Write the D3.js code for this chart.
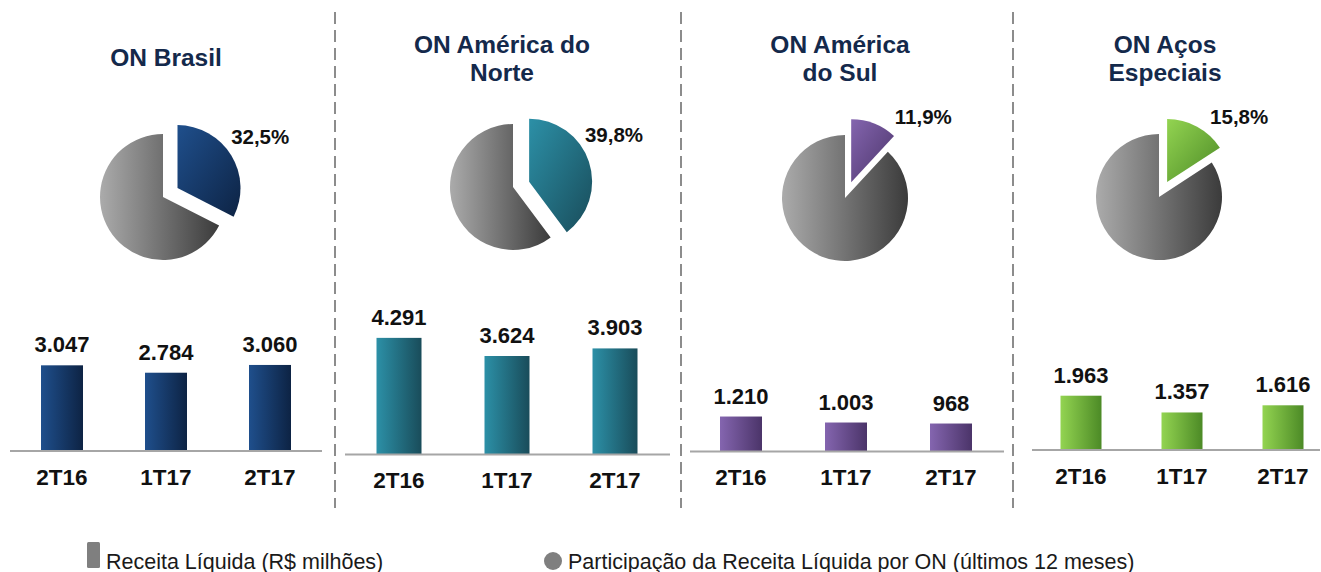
<!DOCTYPE html>
<html>
<head>
<meta charset="utf-8">
<script src="https://cdn.jsdelivr.net/npm/d3@7"></script>
<style>
	body { margin: 0; background: #fff; }
	svg { display: block; font-family: 'Liberation Sans', Arial, sans-serif; }
</style>
</head>
<body>
<div id="chart"></div>
<script>
// Data
let periods = ['2T16', '1T17', '2T17'];
let segments = ['ON Brasil', 'ON América do Norte', 'ON América do Sul', 'ON Aços Especiais'];
let titleLines = [['ON Brasil'], ['ON América do', 'Norte'], ['ON América', 'do Sul'], ['ON Aços', 'Especiais']];
let revenueBrasil = [3047, 2784, 3060];
let revenueNorte = [4291, 3624, 3903];
let revenueSul = [1210, 1003, 968];
let revenueAcos = [1963, 1357, 1616];
let shares = [32.5, 39.8, 11.9, 15.8]; // % of net revenue, last 12 months
let legendLabels = ['Receita Líquida (R$ milhões)', 'Participação da Receita Líquida por ON (últimos 12 meses)'];

let revenues = [revenueBrasil, revenueNorte, revenueSul, revenueAcos];

let width = 1321;
let height = 572;

// Colours: [light, dark] for each segment
let palette = [
	['#1f4f8c', '#0d2344'],
	['#2c90a7', '#194c5a'],
	['#8465af', '#4b3469'],
	['#93d451', '#4c8a26']
];

// Layout of each panel (pixels)
let layout = [
	{center: 166, step: 104, bw: 42, base: 451, axis: [10, 322], h: 140.6, title: 166, pie: [163, 197]},
	{center: 507, step: 108, bw: 45, base: 454.5, axis: [345, 670], h: 135.9, title: 502, pie: [513, 187]},
	{center: 846, step: 105, bw: 42, base: 451.5, axis: [690, 1004], h: 144.5, title: 840, pie: [845, 198]},
	{center: 1182, step: 101, bw: 41, base: 450, axis: [1032, 1320], h: 138.3, title: 1165, pie: [1159, 197]}
];
let separators = [335, 681, 1013];
let R = 63;       // pie radius
let EXPLODE = 17; // explode distance of the coloured slice

let svg = d3.select('#chart').append('svg')
		.attr('width', width)
		.attr('height', height);

let defs = svg.append('defs');

// Grey pie gradient (light left, dark right)
let gGrey = defs.append('linearGradient').attr('id', 'grad-grey')
		.attr('x1', 0).attr('y1', 0).attr('x2', 1).attr('y2', 0);
gGrey.append('stop').attr('offset', 0).attr('stop-color', '#ababab');
gGrey.append('stop').attr('offset', 1).attr('stop-color', '#3b3b3b');

palette.forEach((c, i) => {
	let bar = defs.append('linearGradient').attr('id', 'grad-bar-' + i)
			.attr('x1', 0).attr('y1', 0).attr('x2', 1).attr('y2', 0);
	bar.append('stop').attr('offset', 0).attr('stop-color', c[0]);
	bar.append('stop').attr('offset', 1).attr('stop-color', c[1]);

	let slice = defs.append('linearGradient').attr('id', 'grad-slice-' + i)
			.attr('x1', 0).attr('y1', 0).attr('x2', 1).attr('y2', 1);
	slice.append('stop').attr('offset', 0).attr('stop-color', c[0]);
	slice.append('stop').attr('offset', 1).attr('stop-color', c[1]);
});

// Dashed separators between panels
svg.append('g').selectAll('line').data(separators).enter().append('line')
		.attr('x1', d => d).attr('x2', d => d)
		.attr('y1', 12).attr('y2', 508)
		.attr('stroke', '#8c8c8c')
		.attr('stroke-width', 2)
		.attr('stroke-dasharray', '12,6');

segments.forEach((name, i) => drawPanel(i));

/**
 * Draws title, exploded pie and bar chart for one segment.
 *
 * @param i {number} index of the segment
 */
function drawPanel(i) {
	let L = layout[i];
	let g = svg.append('g').attr('class', 'panel').attr('id', 'panel-' + i);

	// Title
	let title = g.append('text')
			.attr('text-anchor', 'middle')
			.attr('font-size', 24.5)
			.attr('font-weight', 'bold')
			.attr('fill', '#14294b');
	let lines = titleLines[i];
	let firstBase = lines.length === 1 ? 66 : 53;
	lines.forEach((t, k) => {
		title.append('tspan')
				.attr('x', L.title)
				.attr('y', firstBase + k * 28)
				.text(t);
	});

	// Pie
	let pie = d3.pie().sort(null).value(d => d);
	let arcs = pie([shares[i], 100 - shares[i]]);
	let arc = d3.arc().innerRadius(0).outerRadius(R);
	let pieG = g.append('g').attr('transform', `translate(${L.pie[0]}, ${L.pie[1]})`);

	pieG.append('path')
			.attr('d', arc(arcs[1]))
			.attr('fill', 'url(#grad-grey)');

	let mid = (arcs[0].startAngle + arcs[0].endAngle) / 2;
	let ex = Math.sin(mid) * EXPLODE;
	let ey = -Math.cos(mid) * EXPLODE;
	pieG.append('path')
			.attr('d', arc(arcs[0]))
			.attr('transform', `translate(${ex}, ${ey})`)
			.attr('fill', `url(#grad-slice-${i})`);

	// Percentage label, outside the exploded slice
	let la = Math.max(48 * Math.PI / 180, Math.min(mid, 61 * Math.PI / 180));
	pieG.append('text')
			.attr('x', ex + Math.sin(la) * 97)
			.attr('y', ey - Math.cos(la) * 97 + 7)
			.attr('text-anchor', 'middle')
			.attr('font-size', 20.5)
			.attr('font-weight', 'bold')
			.attr('fill', '#111')
			.text(d3.format('.1f')(shares[i]).replace('.', ',') + '%');

	// Bars
	let xScale = d3.scalePoint()
			.domain(periods)
			.range([L.center - L.step, L.center + L.step]);
	let yScale = d3.scaleLinear()
			.domain([0, 5000])
			.range([L.base, L.base - L.h]);

	let data = periods.map((p, k) => ({period: p, value: revenues[i][k]}));

	g.append('g').selectAll('rect').data(data).enter().append('rect')
			.attr('x', d => xScale(d.period) - L.bw / 2)
			.attr('y', d => yScale(d.value))
			.attr('width', L.bw)
			.attr('height', d => yScale(0) - yScale(d.value))
			.attr('fill', `url(#grad-bar-${i})`);

	g.append('g').selectAll('text').data(data).enter().append('text')
			.attr('x', d => xScale(d.period))
			.attr('y', d => yScale(d.value) - 13)
			.attr('text-anchor', 'middle')
			.attr('font-size', 22)
			.attr('font-weight', 'bold')
			.attr('fill', '#111')
			.text(d => d3.format(',')(d.value).replace(',', '.'));

	// Baseline
	g.append('line')
			.attr('x1', L.axis[0]).attr('x2', L.axis[1])
			.attr('y1', yScale(0)).attr('y2', yScale(0))
			.attr('stroke', '#a6a6a6')
			.attr('stroke-width', 2);

	// Category labels
	g.append('g').selectAll('text').data(periods).enter().append('text')
			.attr('x', d => xScale(d))
			.attr('y', yScale(0) + 33.5)
			.attr('text-anchor', 'middle')
			.attr('font-size', 22.5)
			.attr('font-weight', 'bold')
			.attr('fill', '#111')
			.text(d => d);
}

// Legend
let legend = svg.append('g').attr('class', 'legend');
legend.append('rect')
		.attr('x', 87).attr('y', 542)
		.attr('width', 13).attr('height', 26)
		.attr('rx', 1.5)
		.attr('fill', '#7f7f7f');
legend.append('text')
		.attr('x', 106).attr('y', 568.5)
		.attr('font-size', 21.5)
		.attr('fill', '#1a1a1a')
		.text(legendLabels[0]);
legend.append('circle')
		.attr('cx', 553).attr('cy', 561)
		.attr('r', 9)
		.attr('fill', '#7f7f7f');
legend.append('text')
		.attr('x', 568).attr('y', 568.5)
		.attr('font-size', 21.5)
		.attr('fill', '#1a1a1a')
		.text(legendLabels[1]);
</script>
</body>
</html>
